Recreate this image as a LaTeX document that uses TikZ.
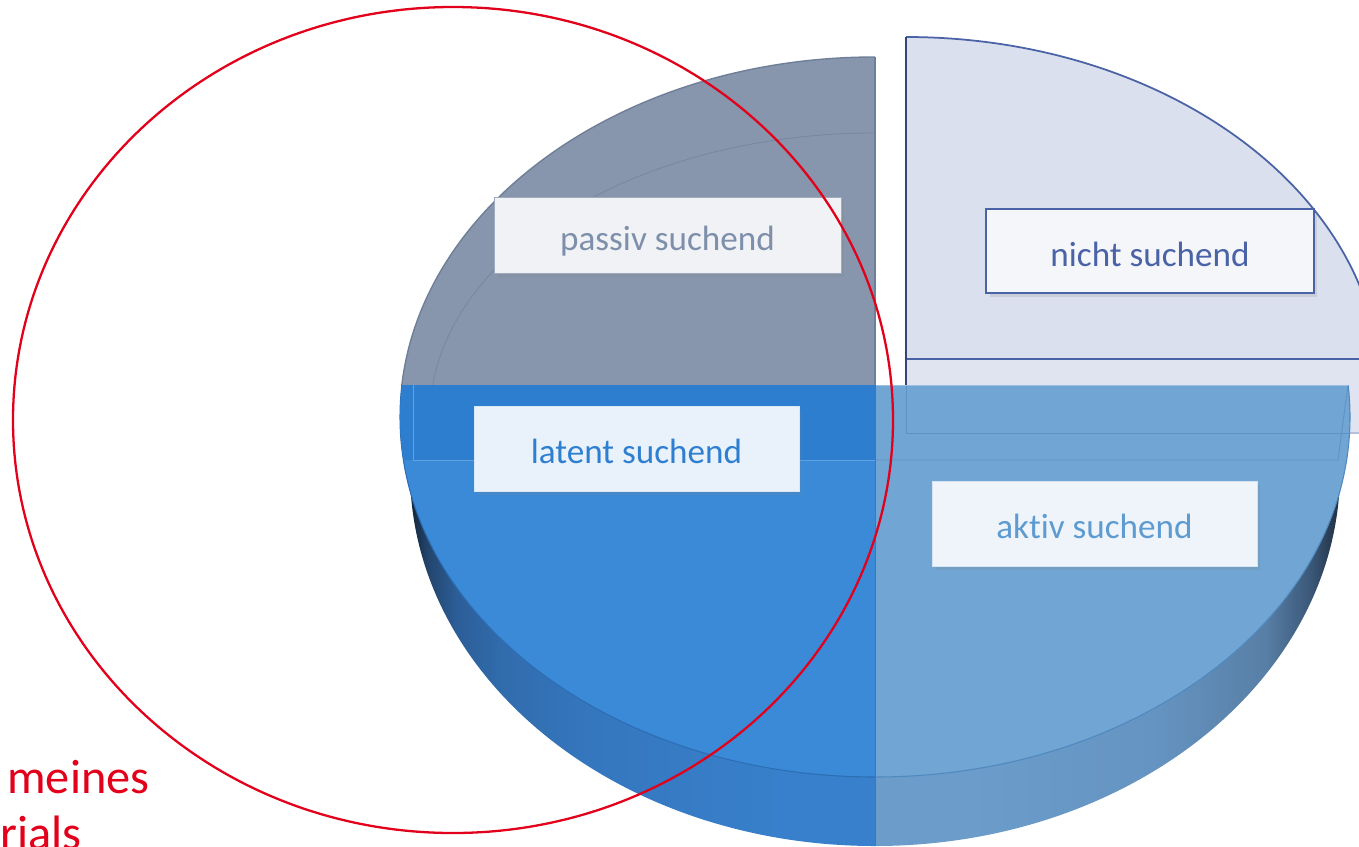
\documentclass[tikz,border=0pt]{standalone}
\usepackage{fontspec}
\setmainfont{Carlito}[Ligatures=NoCommon]
\usetikzlibrary{shadows}

\definecolor{passivgrey}{HTML}{8796AD}
\definecolor{passivedge}{HTML}{6F7F98}
\definecolor{passivtext}{HTML}{7D8FAB}
\definecolor{nichtfill}{HTML}{DAE0EE}
\definecolor{nichtfront}{HTML}{DFE4F0}
\definecolor{nichtedge}{HTML}{4A62A6}
\definecolor{latentfill}{HTML}{3B8AD8}
\definecolor{latentband}{HTML}{2E7ECF}
\definecolor{latentedge}{HTML}{2C6DB3}
\definecolor{latenttext}{HTML}{2F7FD1}
\definecolor{aktivfill}{HTML}{70A5D4}
\definecolor{aktivedge}{HTML}{5089BF}
\definecolor{aktivline}{HTML}{5E93C5}
\definecolor{aktivtext}{HTML}{5E9BD1}
\definecolor{markred}{HTML}{E2001A}
\definecolor{wallA}{HTML}{14243A}
\definecolor{wallB}{HTML}{23466E}
\definecolor{wallC}{HTML}{2C5E98}
\definecolor{wallD}{HTML}{316CAD}
\definecolor{wallE}{HTML}{3577BF}
\definecolor{wallF}{HTML}{3880CB}
\definecolor{wallG}{HTML}{6B9CCA}
\definecolor{wallH}{HTML}{6594C2}
\definecolor{wallI}{HTML}{587FA6}
\definecolor{wallJ}{HTML}{3A5676}
\definecolor{wallK}{HTML}{1E2E40}

\pgfdeclarehorizontalshading{latentwall}{100bp}{color(0bp)=(wallA); color(25bp)=(wallA);
  color(26bp)=(wallB); color(27.5bp)=(wallC); color(30bp)=(wallD); color(35bp)=(wallE);
  color(45bp)=(wallF); color(100bp)=(wallF)}
\pgfdeclarehorizontalshading{aktivwall}{100bp}{color(0bp)=(wallG); color(55bp)=(wallG);
  color(65bp)=(wallH); color(71bp)=(wallI); color(73.5bp)=(wallJ); color(75bp)=(wallK);
  color(100bp)=(wallK)}

\tikzstyle{tag}=[rectangle, font=\fontsize{20}{24}\selectfont, minimum width=6.5cm, minimum height=1.7cm,
  text height=21pt, text depth=3.6pt,
  drop shadow={shadow xshift=2pt, shadow yshift=-2pt, opacity=.18}]
\tikzstyle{note}=[text=markred, font=\fontsize{27.5}{33}\selectfont, inner sep=0pt, anchor=base west]

\begin{document}
\begin{tikzpicture}[x=0.02cm, y=-0.02cm]
  \useasboundingbox (0,0) rectangle (1359,846);
  \clip (0,0) rectangle (1359,846);

  % back left quarter
  \begin{scope}
    \clip (0,0) rectangle (875,385);
    \fill[passivgrey] (875,417) ellipse [x radius=475, y radius=360];
    \draw[passivedge!60!passivgrey, line width=.5pt] (875,417) ellipse [x radius=445, y radius=284];
    \draw[passivedge, line width=.8pt] (875,417) ellipse [x radius=475, y radius=360];
  \end{scope}
  \draw[passivedge, line width=.8pt] (875,57) -- (875,385);

  % back right quarter, pulled out
  \fill[nichtfront] (906,359) rectangle (1380,433);
  \draw[nichtedge!40, line width=.6pt] (906,433) -- (1380,433);
  \begin{scope}
    \clip (906,0) rectangle (1380,359);
    \fill[nichtfill] (906,391) ellipse [x radius=475, y radius=354];
    \draw[nichtedge!20, line width=.6pt] (906,391) ellipse [x radius=430, y radius=279];
    \draw[nichtedge, line width=1pt] (906,391) ellipse [x radius=475, y radius=354];
  \end{scope}
  \draw[nichtedge, line width=1pt] (1380,359) -- (906,359);
  \draw[nichtedge!70!black, line width=1.2pt] (906,37) -- (906,433);

  % side walls
  \begin{scope}
    \clip (0,385) rectangle (875,846);
    \shade[shading=latentwall] (875,471) ellipse [x radius=465, y radius=375];
  \end{scope}
  \begin{scope}
    \clip (875,385) rectangle (1359,846);
    \shade[shading=aktivwall] (875,471) ellipse [x radius=465, y radius=375];
  \end{scope}

  % front quarters
  \begin{scope}
    \clip (0,385) rectangle (875,846);
    \fill[latentfill] (875,417) ellipse [x radius=475, y radius=360];
    \draw[latentedge, line width=.6pt] (875,417) ellipse [x radius=475, y radius=360];
    \clip (875,417) ellipse [x radius=475, y radius=360];
    \fill[latentband] (0,385) rectangle (875,460);
    \draw[latentfill!80!white, line width=.5pt] (413,385) -- (413,460) -- (875,460);
  \end{scope}
  \begin{scope}
    \clip (875,385) rectangle (1359,846);
    \fill[aktivfill] (875,417) ellipse [x radius=475, y radius=360];
    \draw[aktivedge, line width=.6pt] (875,417) ellipse [x radius=475, y radius=360];
    \clip (875,417) ellipse [x radius=475, y radius=360];
    \draw[aktivline, line width=.5pt] (906,385) -- (906,433) -- (1359,433);
    \draw[aktivline, line width=.5pt] (875,460) -- (1338,460) -- (1348,385);
    \draw[aktivfill!70!white, line width=.5pt] (875,385) -- (1359,385);
  \end{scope}
  \draw[latentedge!80!aktivfill, line width=.5pt] (875,385) -- (875,846);

  \node[tag, fill=passivgrey!12, draw=passivgrey!80, line width=.5pt, text=passivtext,
    minimum width=6.94cm, minimum height=1.52cm] (passiv) at (667.5,235) {passiv suchend};
  \node[tag, fill=nichtfill!30, draw=nichtedge, line width=1.4pt, text=nichtedge,
    minimum width=6.56cm, minimum height=1.68cm] (nicht) at (1150,251) {nicht suchend};
  \node[tag, fill=latentfill!11, draw=latentfill!20, line width=.5pt, text=latenttext]
    (latent) at (636.5,448.5) {latent suchend};
  \node[tag, fill=aktivfill!12, draw=aktivfill!30, line width=.5pt, text=aktivtext]
    (aktiv) at (1094.5,523.5) {aktiv suchend};

  \draw[markred, line width=1.3pt] (453,420) ellipse [x radius=440, y radius=413];
  \node[note] (meines) at (7,793) {meines};
  \node[note] (rials) at (0,849) {rials};
\end{tikzpicture}
\end{document}
